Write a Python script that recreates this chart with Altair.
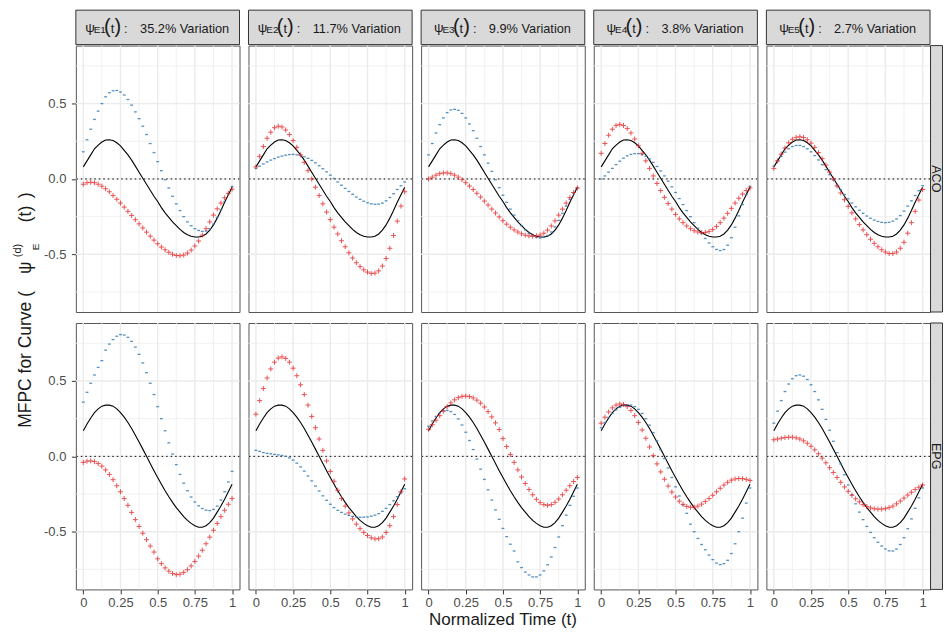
import altair as alt
import pandas as pd

FONT = "Liberation Sans"

# ---------------- data ----------------
T = [0, 0.025, 0.05, 0.075, 0.1, 0.125, 0.15, 0.175, 0.2, 0.225,
     0.25, 0.275, 0.3, 0.325, 0.35, 0.375, 0.4, 0.425, 0.45, 0.475,
     0.5, 0.525, 0.55, 0.575, 0.6, 0.625, 0.65, 0.675, 0.7, 0.725,
     0.75, 0.775, 0.8, 0.825, 0.85, 0.875, 0.9, 0.925, 0.95, 0.975, 1.0]

aco_mean = [0.08, 0.12, 0.16, 0.20, 0.225, 0.245, 0.258, 0.26, 0.255, 0.24,
            0.22, 0.19, 0.16, 0.125, 0.085, 0.045, 0.005, -0.035, -0.075, -0.115,
            -0.15, -0.19, -0.225, -0.255, -0.285, -0.31, -0.335, -0.355, -0.37, -0.38,
            -0.385, -0.385, -0.38, -0.365, -0.34, -0.305, -0.26, -0.21, -0.155, -0.105,
            -0.055]
epg_mean = [0.17, 0.215, 0.255, 0.29, 0.315, 0.333, 0.34, 0.34, 0.333, 0.315,
            0.29, 0.26, 0.225, 0.185, 0.14, 0.095, 0.048, 0.0, -0.048, -0.095,
            -0.14, -0.185, -0.228, -0.268, -0.305, -0.34, -0.37, -0.4, -0.425, -0.445,
            -0.46, -0.47, -0.47, -0.46, -0.44, -0.41, -0.37, -0.33, -0.285, -0.235,
            -0.185]

# ACO row: blue (dash markers) and red (plus markers) per component
aco_blue_e1 = [0.18, 0.26, 0.33, 0.395, 0.45, 0.50, 0.545, 0.572, 0.585, 0.587,
               0.577, 0.557, 0.527, 0.49, 0.445, 0.40, 0.35, 0.295, 0.235, 0.175,
               0.115, 0.055, -0.005, -0.06, -0.115, -0.165, -0.21, -0.25, -0.285, -0.31,
               -0.33, -0.342, -0.348, -0.345, -0.33, -0.30, -0.255, -0.205, -0.15, -0.10,
               -0.05]
aco_red_e1 = [-0.035, -0.025, -0.022, -0.025, -0.035, -0.048, -0.065, -0.085, -0.11, -0.135,
              -0.16, -0.187, -0.215, -0.242, -0.27, -0.298, -0.325, -0.353, -0.38, -0.406,
              -0.43, -0.452, -0.47, -0.487, -0.5, -0.508, -0.51, -0.505, -0.492, -0.472,
              -0.445, -0.412, -0.373, -0.33, -0.285, -0.24, -0.198, -0.16, -0.125, -0.095,
              -0.068]
aco_blue_e2 = [0.07, 0.085, 0.10, 0.113, 0.125, 0.135, 0.145, 0.152, 0.158, 0.162,
               0.163, 0.16, 0.155, 0.147, 0.137, 0.123, 0.107, 0.088, 0.068, 0.047,
               0.025, 0.003, -0.02, -0.042, -0.063, -0.083, -0.102, -0.12, -0.135, -0.148,
               -0.158, -0.165, -0.168, -0.167, -0.16, -0.145, -0.123, -0.098, -0.07, -0.045,
               -0.02]
aco_red_e2 = [0.08, 0.15, 0.215, 0.27, 0.31, 0.34, 0.35, 0.345, 0.325, 0.295,
              0.255, 0.21, 0.16, 0.11, 0.055, 0.0, -0.055, -0.11, -0.165, -0.22,
              -0.27, -0.32, -0.365, -0.41, -0.45, -0.49, -0.525, -0.556, -0.582, -0.603,
              -0.618, -0.627, -0.625, -0.61, -0.578, -0.528, -0.46, -0.375, -0.28, -0.18,
              -0.085]
aco_blue_e3 = [0.16, 0.235, 0.305, 0.36, 0.405, 0.44, 0.458, 0.462, 0.455, 0.435,
               0.405, 0.365, 0.32, 0.27, 0.215, 0.16, 0.105, 0.05, -0.005, -0.058,
               -0.108, -0.155, -0.2, -0.24, -0.277, -0.31, -0.338, -0.36, -0.377, -0.388,
               -0.392, -0.388, -0.375, -0.352, -0.318, -0.275, -0.228, -0.18, -0.135, -0.095,
               -0.06]
aco_red_e3 = [0.0, 0.012, 0.025, 0.035, 0.04, 0.04, 0.035, 0.025, 0.012, -0.005,
              -0.025, -0.047, -0.07, -0.095, -0.12, -0.147, -0.173, -0.2, -0.226, -0.252,
              -0.277, -0.3, -0.32, -0.338, -0.352, -0.364, -0.373, -0.378, -0.38, -0.378,
              -0.372, -0.36, -0.34, -0.312, -0.278, -0.24, -0.2, -0.16, -0.123, -0.09,
              -0.06]
aco_blue_e4 = [0.0, 0.02, 0.045, 0.07, 0.095, 0.118, 0.138, 0.153, 0.163, 0.168,
               0.168, 0.162, 0.15, 0.133, 0.11, 0.083, 0.053, 0.02, -0.015, -0.052,
               -0.09, -0.13, -0.17, -0.21, -0.25, -0.29, -0.327, -0.362, -0.395, -0.425,
               -0.45, -0.468, -0.475, -0.468, -0.44, -0.39, -0.32, -0.245, -0.17, -0.105,
               -0.05]
aco_red_e4 = [0.17, 0.235, 0.29, 0.33, 0.355, 0.362, 0.355, 0.335, 0.305, 0.265,
              0.22, 0.17, 0.12, 0.07, 0.02, -0.03, -0.077, -0.122, -0.163, -0.2,
              -0.235, -0.265, -0.29, -0.312, -0.33, -0.343, -0.352, -0.356, -0.355, -0.348,
              -0.335, -0.315, -0.29, -0.26, -0.228, -0.195, -0.16, -0.128, -0.1, -0.077,
              -0.06]
aco_blue_e5 = [0.085, 0.12, 0.15, 0.178, 0.2, 0.215, 0.222, 0.222, 0.215, 0.2,
               0.18, 0.155, 0.126, 0.095, 0.062, 0.028, -0.006, -0.04, -0.072, -0.103,
               -0.132, -0.16, -0.185, -0.208, -0.228, -0.246, -0.261, -0.273, -0.282, -0.288,
               -0.29, -0.288, -0.28, -0.265, -0.243, -0.213, -0.18, -0.145, -0.11, -0.078,
               -0.045]
aco_red_e5 = [0.07, 0.12, 0.165, 0.205, 0.24, 0.263, 0.276, 0.28, 0.275, 0.26,
              0.238, 0.21, 0.175, 0.135, 0.092, 0.046, 0.0, -0.047, -0.093, -0.138,
              -0.182, -0.225, -0.265, -0.303, -0.338, -0.37, -0.4, -0.427, -0.45, -0.47,
              -0.485, -0.495, -0.495, -0.485, -0.46, -0.42, -0.36, -0.29, -0.215, -0.14,
              -0.07]

# EPG row
epg_blue_e1 = [0.36, 0.425, 0.485, 0.54, 0.59, 0.635, 0.705, 0.745, 0.775, 0.797,
               0.808, 0.805, 0.79, 0.763, 0.725, 0.677, 0.62, 0.555, 0.485, 0.41,
               0.33, 0.25, 0.17, 0.09, 0.015, -0.055, -0.12, -0.178, -0.228, -0.27,
               -0.303, -0.328, -0.346, -0.357, -0.36, -0.352, -0.33, -0.29, -0.235, -0.17,
               -0.1]
epg_red_e1 = [-0.04, -0.032, -0.03, -0.035, -0.048, -0.065, -0.09, -0.12, -0.155, -0.195,
              -0.235, -0.28, -0.325, -0.372, -0.42, -0.465, -0.51, -0.553, -0.595, -0.635,
              -0.68, -0.712, -0.74, -0.762, -0.777, -0.785, -0.782, -0.77, -0.752, -0.727,
              -0.697, -0.662, -0.623, -0.58, -0.536, -0.49, -0.445, -0.4, -0.358, -0.318,
              -0.28]
epg_blue_e2 = [0.04, 0.033, 0.025, 0.02, 0.017, 0.013, 0.01, 0.006, 0.0, -0.01,
               -0.025, -0.045, -0.07, -0.098, -0.13, -0.163, -0.197, -0.23, -0.262, -0.292,
               -0.318, -0.34, -0.358, -0.372, -0.383, -0.392, -0.398, -0.402, -0.404, -0.404,
               -0.402, -0.397, -0.39, -0.38, -0.365, -0.345, -0.32, -0.295, -0.268, -0.242,
               -0.215]
epg_red_e2 = [0.28, 0.37, 0.45, 0.52, 0.58, 0.625, 0.652, 0.66, 0.65, 0.625,
              0.585, 0.535, 0.475, 0.41, 0.34, 0.265, 0.19, 0.115, 0.04, -0.03,
              -0.1, -0.165, -0.225, -0.28, -0.33, -0.375, -0.415, -0.45, -0.48, -0.505,
              -0.525, -0.54, -0.548, -0.547, -0.535, -0.505, -0.46, -0.4, -0.32, -0.235,
              -0.15]
epg_blue_e3 = [0.2, 0.235, 0.265, 0.288, 0.302, 0.305, 0.297, 0.278, 0.248, 0.208,
               0.16, 0.105, 0.045, -0.018, -0.085, -0.153, -0.222, -0.29, -0.355, -0.418,
               -0.478, -0.533, -0.583, -0.628, -0.7, -0.738, -0.768, -0.787, -0.8, -0.8,
               -0.787, -0.76, -0.72, -0.668, -0.605, -0.535, -0.46, -0.39, -0.325, -0.265,
               -0.21]
epg_red_e3 = [0.18, 0.21, 0.24, 0.27, 0.3, 0.33, 0.355, 0.375, 0.39, 0.398,
              0.4, 0.397, 0.388, 0.373, 0.353, 0.328, 0.297, 0.262, 0.222, 0.178,
              0.118, 0.065, 0.012, -0.04, -0.09, -0.137, -0.18, -0.22, -0.255, -0.285,
              -0.307, -0.32, -0.325, -0.32, -0.305, -0.283, -0.255, -0.225, -0.195, -0.167,
              -0.14]
epg_blue_e4 = [0.19, 0.225, 0.258, 0.285, 0.308, 0.325, 0.337, 0.342, 0.34, 0.33,
               0.312, 0.285, 0.25, 0.207, 0.158, 0.103, 0.045, -0.015, -0.077, -0.14,
               -0.202, -0.263, -0.322, -0.378, -0.45, -0.5, -0.545, -0.585, -0.62, -0.655,
               -0.685, -0.708, -0.718, -0.712, -0.69, -0.645, -0.58, -0.5, -0.41, -0.31,
               -0.21]
epg_red_e4 = [0.22, 0.26, 0.295, 0.322, 0.34, 0.348, 0.345, 0.33, 0.305, 0.27,
              0.225, 0.175, 0.12, 0.062, 0.005, -0.05, -0.103, -0.152, -0.197, -0.237,
              -0.27, -0.298, -0.318, -0.332, -0.338, -0.337, -0.33, -0.317, -0.3, -0.28,
              -0.258, -0.235, -0.212, -0.19, -0.172, -0.158, -0.15, -0.147, -0.148, -0.153,
              -0.16]
epg_blue_e5 = [0.22, 0.3, 0.37, 0.43, 0.48, 0.515, 0.535, 0.54, 0.532, 0.51,
               0.475, 0.43, 0.375, 0.312, 0.245, 0.173, 0.1, 0.025, -0.05, -0.122,
               -0.19, -0.255, -0.315, -0.37, -0.42, -0.465, -0.505, -0.54, -0.57, -0.595,
               -0.615, -0.627, -0.628, -0.615, -0.585, -0.54, -0.48, -0.415, -0.345, -0.275,
               -0.21]
epg_red_e5 = [0.11, 0.115, 0.12, 0.125, 0.127, 0.127, 0.123, 0.115, 0.103, 0.087,
              0.067, 0.043, 0.017, -0.012, -0.043, -0.075, -0.107, -0.14, -0.172, -0.203,
              -0.232, -0.258, -0.282, -0.302, -0.32, -0.333, -0.342, -0.348, -0.35, -0.35,
              -0.347, -0.34, -0.33, -0.315, -0.297, -0.277, -0.257, -0.238, -0.22, -0.205,
              -0.19]

ROWS = ["ACO", "EPG"]
PCT = ["35.2", "11.7", "9.9", "3.8", "2.7"]
X_TICKS = [0, 0.25, 0.5, 0.75, 1]
X_MINOR = [0.125, 0.375, 0.625, 0.875]
Y_TICKS = [-0.5, 0, 0.5]
Y_MINOR = [-0.75, -0.25, 0.25, 0.75]

MEANS = {"ACO": aco_mean, "EPG": epg_mean}
BLUE = {"ACO": [aco_blue_e1, aco_blue_e2, aco_blue_e3, aco_blue_e4, aco_blue_e5],
        "EPG": [epg_blue_e1, epg_blue_e2, epg_blue_e3, epg_blue_e4, epg_blue_e5]}
RED = {"ACO": [aco_red_e1, aco_red_e2, aco_red_e3, aco_red_e4, aco_red_e5],
       "EPG": [epg_red_e1, epg_red_e2, epg_red_e3, epg_red_e4, epg_red_e5]}

# ---------------- layout / style ----------------
W = 164
H = 267
COL_GAP = 9
ROW_GAP = 11
XS = alt.Scale(domain=[-0.05, 1.05], nice=False, zero=False)
YS = alt.Scale(domain=[-0.883, 0.885], nice=False, zero=False)

AX_X = alt.Axis(values=X_TICKS, labelExpr="format(datum.value, '~g')", grid=False,
                domain=False, ticks=True, tickSize=4.5, tickColor="#333333", tickWidth=1,
                labelFont=FONT, labelFontSize=13, labelColor="#4D4D4D", labelPadding=2.5,
                title=None)
AX_Y = alt.Axis(values=Y_TICKS,
                labelExpr="datum.value < 0 ? '-' + format(-datum.value, '.1f') : format(datum.value, '.1f')",
                grid=False, domain=False, ticks=True, tickSize=4.5, tickColor="#333333",
                tickWidth=1, labelFont=FONT, labelFontSize=13, labelColor="#4D4D4D",
                labelPadding=5.5, title=None)

CW = {'0': .556, '1': .556, '2': .556, '3': .556, '4': .556, '5': .556, '6': .556,
      '7': .556, '8': .556, '9': .556, '.': .278, '%': .889, ' ': .278, 'V': .667,
      'a': .556, 'r': .333, 'i': .222, 't': .278, 'o': .556, 'n': .556}

ONE = pd.DataFrame({"a": [0]})


def txt(text, x, y, size, angle=None, align="left", baseline="alphabetic", color="#1A1A1A"):
    kw = dict(text=text, fontSize=size, font=FONT, align=align, baseline=baseline, color=color)
    if angle is not None:
        kw["angle"] = angle
    return alt.Chart(ONE).mark_text(**kw).encode(x=alt.value(x), y=alt.value(y))


def panel(r, c):
    row = ROWS[r]
    xaxis = AX_X if r == 1 else None
    yaxis = AX_Y if c == 0 else None

    def X(f):
        return alt.X(f, type="quantitative", scale=XS, axis=xaxis, title=None)

    def Y(f):
        return alt.Y(f, type="quantitative", scale=YS, axis=yaxis, title=None)

    layers = []
    layers.append(alt.Chart(pd.DataFrame({"gx": X_MINOR})).mark_rule(
        color="#EEEEEE", strokeWidth=0.8).encode(x=X("gx")))
    layers.append(alt.Chart(pd.DataFrame({"gy": Y_MINOR})).mark_rule(
        color="#EEEEEE", strokeWidth=0.8).encode(y=Y("gy")))
    layers.append(alt.Chart(pd.DataFrame({"gx": X_TICKS})).mark_rule(
        color="#EBEBEB", strokeWidth=1.4).encode(x=X("gx")))
    layers.append(alt.Chart(pd.DataFrame({"gy": Y_TICKS})).mark_rule(
        color="#EBEBEB", strokeWidth=1.4).encode(y=Y("gy")))
    layers.append(alt.Chart(pd.DataFrame({"gy": [0]})).mark_rule(
        color="#000000", strokeWidth=1, strokeDash=[1.5, 3]).encode(y=Y("gy")))

    layers.append(alt.Chart(pd.DataFrame({"t": T, "v": MEANS[row]})).mark_line(
        color="#000000", strokeWidth=1.1).encode(x=X("t"), y=Y("v")))
    layers.append(alt.Chart(pd.DataFrame({"t": T, "v": BLUE[row][c]})).mark_point(
        shape="M-1,0L1,0", size=8, strokeWidth=1.3, color="#377EB8", opacity=0.85,
        filled=False).encode(x=X("t"), y=Y("v")))
    layers.append(alt.Chart(pd.DataFrame({"t": T, "v": RED[row][c]})).mark_point(
        shape="M-1,0L1,0M0,-1L0,1", size=25, strokeWidth=1, color="#E41A1C", opacity=0.75,
        filled=False).encode(x=X("t"), y=Y("v")))

    # top strip
    if r == 0:
        layers.append(alt.Chart(ONE).mark_rect(fill="#D9D9D9", stroke="#333333", strokeWidth=1)
                      .encode(x=alt.value(0), x2=alt.value(W), y=alt.value(-35.5), y2=alt.value(-1)))
        label = PCT[c] + "% Variation"
        wv = sum(CW.get(ch, 0.556) for ch in label) * 12.8
        x0 = (W - (55 + wv)) / 2
        layers.append(txt("\u03c8", x0, -14, 13.5))
        layers.append(txt("E" + str(c + 1), x0 + 8.5, -13, 10))
        layers.append(txt("(", x0 + 19, -13, 20))
        layers.append(txt("t", x0 + 25.7, -13, 12.8))
        layers.append(txt(")", x0 + 29.3, -13, 20))
        layers.append(txt(":", x0 + 39, -13, 12.8))
        layers.append(txt(label, x0 + 55, -13, 12.8))

    # right strip (kept inside the page width)
    if c == 4:
        layers.append(alt.Chart(ONE).mark_rect(fill="#D9D9D9", stroke="#333333", strokeWidth=1)
                      .encode(x=alt.value(W + 0.5), x2=alt.value(W + 12.5), y=alt.value(0), y2=alt.value(H)))
        layers.append(txt(row, W + 6.3, H / 2, 12.6, angle=90, align="center", baseline="middle"))

    # y title and page anchor
    if r == 0 and c == 0:
        layers.append(alt.Chart(ONE).mark_rect(opacity=0, color="white")
                      .encode(x=alt.value(-67), x2=alt.value(-66), y=alt.value(-36), y2=alt.value(-35)))
        layers.append(txt("MFPC for Curve (", -45, 383, 17.5, angle=270))
        layers.append(txt("\u03c8", -45, 229, 17.5, angle=270))
        layers.append(txt("E", -37, 205, 10, angle=270))
        layers.append(txt("(d)", -55, 212, 11, angle=270))
        layers.append(txt("(t)", -45, 177, 17.5, angle=270))
        layers.append(txt(")", -45, 153, 17.5, angle=270))

    # x title
    if r == 1 and c == 2:
        layers.append(txt("Normalized Time (t)", W / 2, H + 36, 17, align="center"))

    return alt.layer(*layers).properties(width=W, height=H)


cells = [panel(r, c) for r in range(2) for c in range(5)]

chart = alt.concat(*cells, columns=5, spacing={"row": ROW_GAP, "column": COL_GAP},
                   bounds="flush", padding=0).configure_view(stroke="#555555", strokeWidth=1)

chart.save("out.html", embed_options={"renderer": "svg", "actions": False})
